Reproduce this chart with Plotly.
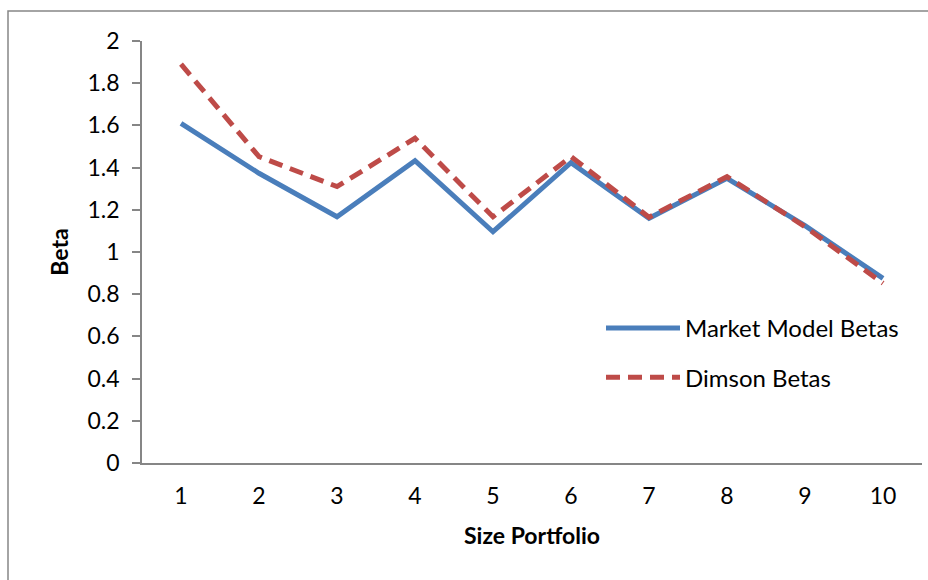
import plotly.graph_objects as go

portfolios = ["1", "2", "3", "4", "5", "6", "7", "8", "9", "10"]
market_model_betas = [1.61, 1.373, 1.167, 1.433, 1.096, 1.423, 1.160, 1.349, 1.125, 0.875]
dimson_betas = [1.89, 1.452, 1.31, 1.539, 1.167, 1.452, 1.165, 1.357, 1.12, 0.852]
y_ticks = [0, 0.2, 0.4, 0.6, 0.8, 1, 1.2, 1.4, 1.6, 1.8, 2]

FONT = "Lato, 'Open Sans', sans-serif"
AXIS_GREY = "#868686"

fig = go.Figure()
fig.add_trace(go.Scatter(
    x=portfolios, y=market_model_betas, mode="lines", name="Market Model Betas",
    legendgroup="a",
    line=dict(color="#4A7EBB", width=5),
))
fig.add_trace(go.Scatter(
    x=portfolios, y=dimson_betas, mode="lines", name="Dimson Betas",
    legendgroup="b",
    line=dict(color="#BE4B48", width=5, dash="14px,8px"),
))

fig.update_layout(
    width=928, height=580,
    margin=dict(l=142, r=6, t=41, b=117),
    paper_bgcolor="white", plot_bgcolor="white",
    font=dict(family=FONT, size=23, color="black"),
    showlegend=True,
    legend=dict(
        x=(601 - 142) / 780, y=(463 - 306) / 422, xanchor="left", yanchor="top",
        bgcolor="rgba(0,0,0,0)", font=dict(size=24),
        tracegroupgap=15, itemwidth=74,
    ),
    xaxis=dict(
        type="category", range=[-0.5, 9.5],
        showline=True, linecolor=AXIS_GREY, linewidth=1.5,
        ticks="", showgrid=False, zeroline=False,
        ticklabelstandoff=12,
        title=dict(text="<b>Size Portfolio</b>", standoff=20, font=dict(size=23)),
    ),
    yaxis=dict(
        range=[0, 2], tickvals=y_ticks,
        showline=True, linecolor=AXIS_GREY, linewidth=1.5,
        ticks="outside", ticklen=8, tickcolor=AXIS_GREY, tickwidth=1.5,
        showgrid=False, zeroline=False,
        ticklabelstandoff=8,
        title=dict(text="<b>Beta</b>", standoff=12, font=dict(size=23)),
    ),
    shapes=[dict(
        type="rect", xref="paper", yref="paper",
        x0=(8 - 142) / 780, x1=1.3, y0=-0.6, y1=(463 - 11) / 422,
        line=dict(color=AXIS_GREY, width=1.5), fillcolor="rgba(0,0,0,0)", layer="below",
    )],
)

fig.write_html("out.html")
